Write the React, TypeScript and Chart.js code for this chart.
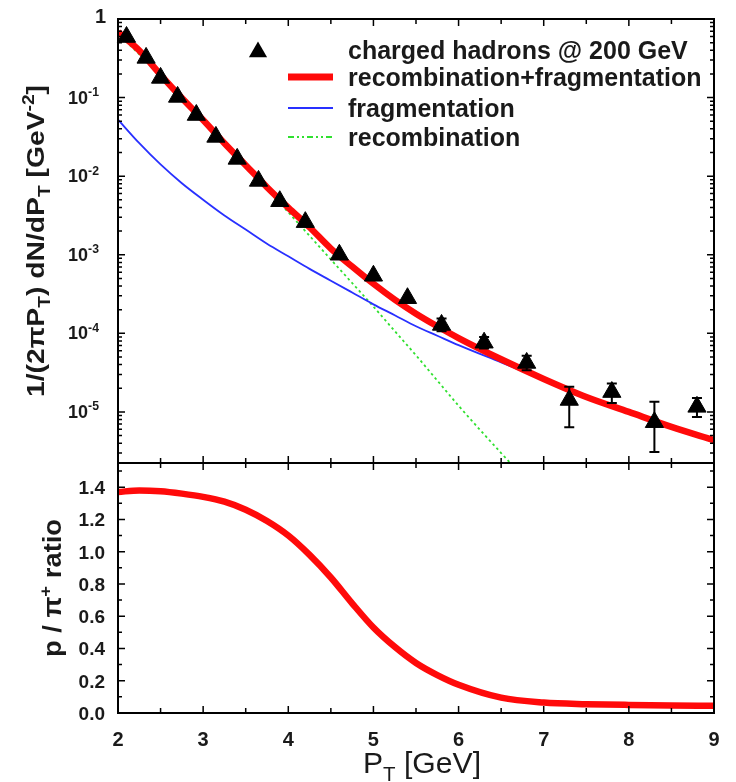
import React, { useEffect, useRef } from 'react';
import { Chart, registerables } from 'chart.js';

Chart.register(...registerables);

// Charged hadrons @ 200 GeV: measured invariant yield
const hadronPt = [2.1, 2.33, 2.5, 2.7, 2.92, 3.15, 3.4, 3.65, 3.9, 4.2, 4.6, 5.0, 5.4, 5.8, 6.3, 6.8, 7.3, 7.8, 8.3, 8.8];
const hadronYield = [0.59, 0.32, 0.178, 0.102, 0.06, 0.0316, 0.0166, 0.0087, 0.0048, 0.0026, 0.001, 5.4e-4, 2.8e-4, 1.28e-4, 7.6e-5, 4.2e-5, 1.42e-5, 1.79e-5, 7.4e-6, 1.16e-5];
const hadronErrLow = [null, null, null, null, null, null, null, null, null, null, null, null, null, 1.06e-4, 6.4e-5, 3.4e-5, 6.4e-6, 1.3e-5, 3.1e-6, 8.6e-6];
const hadronErrHigh = [null, null, null, null, null, null, null, null, null, null, null, null, null, 1.55e-4, 9.0e-5, 5.2e-5, 2.09e-5, 2.3e-5, 1.35e-5, 1.5e-5];

// Model curves sampled in P_T
const curvePt = [2.0, 2.25, 2.5, 2.75, 3.0, 3.25, 3.5, 3.75, 4.0, 4.25, 4.5, 4.75, 5.0, 5.25, 5.5, 5.75, 6.0, 6.5, 7.0, 7.5, 8.0, 8.5, 9.0];
const recoPlusFrag = [0.684, 0.398, 0.195, 0.0989, 0.0519, 0.0263, 0.0138, 0.00724, 0.00398, 0.00224, 0.0012, 7.08e-4, 4.27e-4, 2.69e-4, 1.78e-4, 1.23e-4, 8.71e-5, 4.68e-5, 2.63e-5, 1.55e-5, 1.0e-5, 6.46e-6, 4.37e-6];
const fragOnly = [0.0525, 0.0263, 0.0141, 0.00813, 0.00501, 0.00316, 0.00209, 0.00138, 9.55e-4, 6.61e-4, 4.68e-4, 3.31e-4, 2.34e-4, 1.7e-4, 1.23e-4, 9.33e-5, 7.08e-5, 4.27e-5, 2.57e-5, 1.51e-5, 9.77e-6, 6.31e-6, 4.27e-6];
const recoOnly = [0.646, 0.355, 0.186, 0.0977, 0.0501, 0.0257, 0.0132, 0.00676, 0.00347, 0.00174, 8.71e-4, 4.37e-4, 2.19e-4, 1.07e-4, 5.25e-5, 2.51e-5, 1.2e-5, 3.0e-6, 7.9e-7, null, null, null, null];
const protonPionRatio = [1.37, 1.38, 1.375, 1.36, 1.34, 1.31, 1.26, 1.19, 1.1, 0.98, 0.84, 0.68, 0.53, 0.41, 0.31, 0.235, 0.175, 0.095, 0.065, 0.055, 0.05, 0.047, 0.045];

// Axis ticks and labels
const xTicks = [2, 3, 4, 5, 6, 7, 8, 9];
const xTickLabels = ['2', '3', '4', '5', '6', '7', '8', '9'];
const logTicks = [1, 1e-1, 1e-2, 1e-3, 1e-4, 1e-5];
const logTickExponents = ['', '-1', '-2', '-3', '-4', '-5'];
const ratioTicks = [0, 0.2, 0.4, 0.6, 0.8, 1.0, 1.2, 1.4];
const ratioTickLabels = ['0.0', '0.2', '0.4', '0.6', '0.8', '1.0', '1.2', '1.4'];

const legendLabels = ['charged hadrons @ 200 GeV', 'recombination+fragmentation', 'fragmentation', 'recombination'];

const FONT = '"Liberation Sans", Arial, Helvetica, sans-serif';
const RED = '#ff0a0a';
const BLUE = '#2830ff';
const GREEN = '#30e030';

type Seg = { t: string; k?: 'sub' | 'sup' };

function setFont(ctx: CanvasRenderingContext2D, size: number, weight: string) {
  ctx.font = `${weight} ${size}px ${FONT}`;
}

function richWidth(ctx: CanvasRenderingContext2D, segs: Seg[], size: number, weight: string) {
  let w = 0;
  for (const s of segs) {
    setFont(ctx, s.k ? size * 0.68 : size, weight);
    w += ctx.measureText(s.t).width;
  }
  return w;
}

// Draws a run of text with sub/superscripts; (x, y) is the anchor on the baseline.
function drawRich(
  ctx: CanvasRenderingContext2D,
  segs: Seg[],
  x: number,
  y: number,
  size: number,
  weight: string,
  align: 'left' | 'center' | 'right',
  targetWidth?: number
) {
  const natural = richWidth(ctx, segs, size, weight);
  const sx = targetWidth ? targetWidth / natural : 1;
  const w = natural * sx;
  const start = align === 'left' ? x : align === 'center' ? x - w / 2 : x - w;
  ctx.save();
  ctx.translate(start, y);
  ctx.scale(sx, 1);
  ctx.textAlign = 'left';
  ctx.textBaseline = 'alphabetic';
  let cx = 0;
  for (const s of segs) {
    const sz = s.k ? size * 0.68 : size;
    setFont(ctx, sz, weight);
    const dy = s.k === 'sub' ? size * 0.28 : s.k === 'sup' ? -size * 0.42 : 0;
    ctx.fillText(s.t, cx, dy);
    cx += ctx.measureText(s.t).width;
  }
  ctx.restore();
}

function drawTriangle(ctx: CanvasRenderingContext2D, x: number, y: number, r: number) {
  ctx.beginPath();
  for (let i = 0; i < 3; i++) {
    const a = (i * 2 * Math.PI) / 3;
    const px = x + Math.sin(a) * r;
    const py = y - Math.cos(a) * r;
    if (i === 0) ctx.moveTo(px, py);
    else ctx.lineTo(px, py);
  }
  ctx.closePath();
  ctx.fill();
}

const errorBarPlugin = {
  id: 'errorBars',
  afterDatasetsDraw(chart: any) {
    const ctx: CanvasRenderingContext2D = chart.ctx;
    const xs = chart.scales.x;
    const ys = chart.scales.yTop;
    ctx.save();
    ctx.strokeStyle = '#000';
    ctx.lineWidth = 2;
    hadronPt.forEach((pt, i) => {
      const lo = hadronErrLow[i];
      const hi = hadronErrHigh[i];
      if (lo == null || hi == null) return;
      const px = xs.getPixelForValue(pt);
      const y1 = ys.getPixelForValue(lo);
      const y2 = ys.getPixelForValue(hi);
      ctx.beginPath();
      ctx.moveTo(px, y1);
      ctx.lineTo(px, y2);
      ctx.moveTo(px - 5, y1);
      ctx.lineTo(px + 5, y1);
      ctx.moveTo(px - 5, y2);
      ctx.lineTo(px + 5, y2);
      ctx.stroke();
    });
    ctx.restore();
  },
};

const framePlugin = {
  id: 'frameAndLabels',
  afterDraw(chart: any) {
    const ctx: CanvasRenderingContext2D = chart.ctx;
    const xs = chart.scales.x;
    const yt = chart.scales.yTop;
    const yb = chart.scales.yBot;
    const L = xs.left;
    const R = xs.right;
    const T = yt.top;
    const M = yt.bottom;
    const B = yb.bottom;

    ctx.save();
    ctx.strokeStyle = '#000';
    ctx.fillStyle = '#000';
    ctx.lineWidth = 2;
    ctx.strokeRect(L, T, R - L, B - T);
    ctx.beginPath();
    ctx.moveTo(L, M);
    ctx.lineTo(R, M);
    ctx.stroke();

    // x ticks on every panel edge, pointing inward
    ctx.lineWidth = 1.5;
    ctx.beginPath();
    for (let k = 0; k < xTicks.length; k++) {
      const vals = [xTicks[k]];
      if (k < xTicks.length - 1) vals.push((xTicks[k] + xTicks[k + 1]) / 2);
      vals.forEach((v, j) => {
        const px = xs.getPixelForValue(v);
        const len = j === 0 ? 7 : 5;
        ctx.moveTo(px, T);
        ctx.lineTo(px, T + len);
        ctx.moveTo(px, M - len);
        ctx.lineTo(px, M + len);
        ctx.moveTo(px, B);
        ctx.lineTo(px, B - len);
      });
    }
    // log ticks, left and right
    for (let d = -6; d <= 0; d++) {
      for (let m = 1; m <= 9; m++) {
        const v = m * Math.pow(10, d);
        if (v < yt.min || v > yt.max) continue;
        const py = yt.getPixelForValue(v);
        const len = m === 1 ? 7 : 4;
        ctx.moveTo(L, py);
        ctx.lineTo(L + len, py);
        ctx.moveTo(R, py);
        ctx.lineTo(R - len, py);
      }
    }
    // ratio ticks, left and right
    for (let k = 0; k < ratioTicks.length; k++) {
      const vals = [ratioTicks[k], ratioTicks[k] + 0.1];
      vals.forEach((v, j) => {
        if (v > yb.max) return;
        const py = yb.getPixelForValue(v);
        const len = j === 0 ? 7 : 4;
        ctx.moveTo(L, py);
        ctx.lineTo(L + len, py);
        ctx.moveTo(R, py);
        ctx.lineTo(R - len, py);
      });
    }
    ctx.stroke();

    ctx.fillStyle = '#1a1a1a';
    // log-axis labels
    logTicks.forEach((v, i) => {
      const py = yt.getPixelForValue(v);
      const exp = logTickExponents[i];
      if (!exp) {
        drawRich(ctx, [{ t: '1' }], 106, py + 4, 20, 'bold', 'right');
      } else {
        drawRich(ctx, [{ t: '10' }, { t: exp, k: 'sup' }], 99, py + 6, 18, 'bold', 'right');
      }
    });
    // ratio-axis labels
    ratioTicks.forEach((v, i) => {
      const py = yb.getPixelForValue(v);
      drawRich(ctx, [{ t: ratioTickLabels[i] }], 105, py + 7, 19, 'bold', 'right');
    });
    // x labels
    xTicks.forEach((v, i) => {
      const px = xs.getPixelForValue(v);
      drawRich(ctx, [{ t: xTickLabels[i] }], px, B + 33, 20, 'bold', 'center');
    });

    // axis titles
    drawRich(ctx, [{ t: 'P' }, { t: 'T', k: 'sub' }, { t: ' [GeV]' }], (L + R) / 2 + 6, B + 60, 30, 'normal', 'center', 118);

    ctx.save();
    ctx.translate(44, (T + M) / 2);
    ctx.rotate(-Math.PI / 2);
    drawRich(
      ctx,
      [
        { t: '1/(2' },
        { t: 'π' },
        { t: 'P' },
        { t: 'T', k: 'sub' },
        { t: ') dN/dP' },
        { t: 'T', k: 'sub' },
        { t: ' [GeV' },
        { t: '-2', k: 'sup' },
        { t: ']' },
      ],
      0,
      0,
      23,
      'bold',
      'center',
      312
    );
    ctx.restore();

    ctx.save();
    ctx.translate(61, (M + B) / 2);
    ctx.rotate(-Math.PI / 2);
    drawRich(ctx, [{ t: 'p / ' }, { t: 'π' }, { t: '+', k: 'sup' }, { t: ' ratio' }], 0, 0, 25, 'bold', 'center', 138);
    ctx.restore();

    // legend
    const textX = 348;
    const rows = [50, 77, 108, 137];
    ctx.fillStyle = '#000';
    drawTriangle(ctx, 258, rows[0] + 2, 10.5);
    ctx.lineCap = 'butt';
    ctx.strokeStyle = RED;
    ctx.lineWidth = 7;
    ctx.beginPath();
    ctx.moveTo(288, rows[1]);
    ctx.lineTo(333, rows[1]);
    ctx.stroke();
    ctx.strokeStyle = BLUE;
    ctx.lineWidth = 2;
    ctx.beginPath();
    ctx.moveTo(288, rows[2]);
    ctx.lineTo(333, rows[2]);
    ctx.stroke();
    ctx.strokeStyle = GREEN;
    ctx.setLineDash([6, 3, 2, 3, 2, 3]);
    ctx.beginPath();
    ctx.moveTo(288, rows[3]);
    ctx.lineTo(333, rows[3]);
    ctx.stroke();
    ctx.setLineDash([]);
    ctx.fillStyle = '#1a1a1a';
    legendLabels.forEach((lab, i) => {
      drawRich(ctx, [{ t: lab }], textX, rows[i] + 9, 25, 'bold', 'left');
    });

    ctx.restore();
  },
};

export default function App() {
  const ref = useRef<HTMLCanvasElement | null>(null);

  useEffect(() => {
    if (!ref.current) return;
    const pts = (ys: (number | null)[]) => curvePt.map((x, i) => ({ x, y: ys[i] }));

    const chart = new Chart(ref.current, {
      type: 'line',
      data: {
        datasets: [
          {
            label: legendLabels[0],
            data: hadronPt.map((x, i) => ({ x, y: hadronYield[i] })),
            yAxisID: 'yTop',
            showLine: false,
            pointStyle: 'triangle',
            pointRadius: 10.5,
            pointBackgroundColor: '#000',
            pointBorderColor: '#000',
            pointBorderWidth: 1,
            clip: false,
          },
          {
            label: legendLabels[1],
            data: pts(recoPlusFrag),
            yAxisID: 'yTop',
            borderColor: RED,
            borderWidth: 6.5,
            pointRadius: 0,
            cubicInterpolationMode: 'monotone',
            clip: 0,
          },
          {
            label: legendLabels[2],
            data: pts(fragOnly),
            yAxisID: 'yTop',
            borderColor: BLUE,
            borderWidth: 1.8,
            pointRadius: 0,
            cubicInterpolationMode: 'monotone',
            clip: 0,
          },
          {
            label: legendLabels[3],
            data: pts(recoOnly),
            yAxisID: 'yTop',
            borderColor: GREEN,
            borderWidth: 1.8,
            borderDash: [2.5, 3],
            pointRadius: 0,
            cubicInterpolationMode: 'monotone',
            spanGaps: false,
            clip: 0,
          },
          {
            label: 'p / π+ ratio',
            data: pts(protonPionRatio),
            yAxisID: 'yBot',
            borderColor: RED,
            borderWidth: 6.5,
            pointRadius: 0,
            cubicInterpolationMode: 'monotone',
            clip: 0,
          },
        ],
      },
      options: {
        animation: false,
        responsive: false,
        devicePixelRatio: 1,
        events: [],
        layout: { padding: { top: 19, right: 22, left: 0, bottom: 0 } },
        plugins: { legend: { display: false }, tooltip: { enabled: false } },
        scales: {
          x: {
            type: 'linear',
            min: 2,
            max: 9,
            grid: { display: false },
            border: { display: false },
            ticks: { display: false },
            afterFit: (s: any) => {
              s.height = 69;
            },
          },
          yBot: {
            type: 'linear',
            position: 'left',
            stack: 'panels',
            stackWeight: 250,
            min: 0,
            max: 1.55,
            grid: { display: false },
            border: { display: false },
            ticks: { display: false },
            afterFit: (s: any) => {
              s.width = 118;
            },
          },
          yTop: {
            type: 'logarithmic',
            position: 'left',
            stack: 'panels',
            stackWeight: 444,
            min: 2.24e-6,
            max: 1,
            grid: { display: false },
            border: { display: false },
            ticks: { display: false },
            afterFit: (s: any) => {
              s.width = 118;
            },
          },
        },
      },
      plugins: [errorBarPlugin, framePlugin],
    } as any);

    return () => chart.destroy();
  }, []);

  return (
    <div style={{ position: 'absolute', left: 0, top: 0, width: 736, height: 782, background: '#fff' }}>
      <canvas ref={ref} width={736} height={782} style={{ display: 'block' }} />
    </div>
  );
}
